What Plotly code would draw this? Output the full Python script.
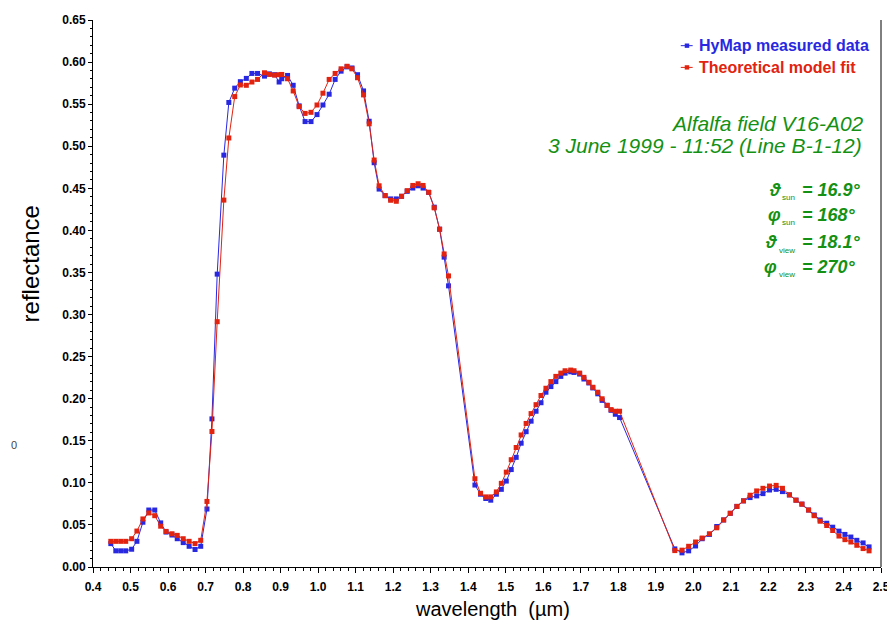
import plotly.graph_objects as go

# ---------------- data ----------------
wavelength = [
    0.4475, 0.4608, 0.474, 0.4872, 0.503, 0.517, 0.533, 0.5487, 0.5646, 0.5804,
    0.5947, 0.6105, 0.6245, 0.6404, 0.6562, 0.672, 0.6871, 0.7037,
    0.717, 0.731, 0.7487, 0.762, 0.7777, 0.7927, 0.8086, 0.8235, 0.8385, 0.857,
    0.870, 0.884, 0.896, 0.903, 0.9185, 0.9335, 0.9494, 0.9652, 0.981, 0.997,
    1.0128, 1.0294, 1.0453, 1.0611, 1.077, 1.0902, 1.105, 1.121, 1.136, 1.1493,
    1.1625, 1.1784, 1.1932, 1.2082, 1.2223, 1.2373, 1.2523, 1.2664, 1.2796, 1.2946,
    1.3094, 1.3237, 1.3358, 1.3475,
    1.4178, 1.4328, 1.4468, 1.46, 1.475, 1.4882, 1.5014, 1.5146, 1.5278, 1.541,
    1.5543, 1.5675, 1.5807, 1.5939, 1.6071, 1.6203, 1.6335, 1.6467, 1.6581, 1.6731,
    1.6819, 1.6969, 1.7083, 1.7215, 1.732, 1.7452, 1.7568, 1.7701, 1.7806, 1.792,
    1.8033,
    1.9505, 1.9697, 1.9874, 2.0058, 2.0235, 2.0428, 2.0622, 2.0807, 2.0983, 2.1159,
    2.1335, 2.1511, 2.1687, 2.1854, 2.203, 2.2206, 2.2374, 2.2559, 2.2735, 2.2893,
    2.307, 2.322, 2.3378, 2.3554, 2.3713, 2.388, 2.4039, 2.4197, 2.4356, 2.4523,
    2.4682,
]

hymap_measured = [
    0.0278, 0.0192, 0.0192, 0.0192, 0.0211, 0.0305, 0.0532, 0.0677, 0.0677, 0.0524,
    0.0415, 0.038, 0.0336, 0.029, 0.0246, 0.0208, 0.0246, 0.0689,
    0.176, 0.348, 0.4894, 0.552, 0.569, 0.5767, 0.5806, 0.5865, 0.5865, 0.5833,
    0.586, 0.585, 0.5763, 0.5802, 0.5841, 0.5724, 0.548, 0.5293, 0.5293, 0.5376,
    0.549, 0.5618, 0.5794, 0.5892, 0.5943, 0.593, 0.585, 0.5657, 0.5297, 0.4804,
    0.4491, 0.4413, 0.4374, 0.4374, 0.4405, 0.4464, 0.4503, 0.453, 0.4503, 0.4452,
    0.4276, 0.4014, 0.3682, 0.3341,
    0.0974, 0.0865, 0.0814, 0.0794, 0.0865, 0.0923, 0.1021, 0.1158, 0.1303, 0.1471,
    0.1608, 0.1733, 0.1851, 0.1952, 0.2077, 0.2144, 0.2203, 0.2265, 0.2304, 0.232,
    0.2312, 0.2293, 0.2234, 0.2187, 0.2128, 0.2058, 0.198, 0.1921, 0.1862, 0.1815,
    0.1776,
    0.0215, 0.0168, 0.0192, 0.025, 0.0336, 0.0387, 0.0481, 0.0559, 0.0638, 0.072,
    0.0786, 0.0825, 0.0845, 0.0872, 0.0915, 0.0923, 0.0896, 0.0857, 0.0794, 0.0747,
    0.0677, 0.0618, 0.0559, 0.052, 0.0473, 0.0426, 0.0387, 0.0356, 0.0317, 0.0286,
    0.0239,
]

model_fit = [
    0.0305, 0.0305, 0.0305, 0.0305, 0.0336, 0.0427, 0.0571, 0.0642, 0.061, 0.0485,
    0.0423, 0.0395, 0.0376, 0.0336, 0.0305, 0.0278, 0.0317, 0.0779,
    0.161, 0.2915, 0.436, 0.5098, 0.559, 0.5728, 0.5724, 0.5763, 0.5794, 0.5873,
    0.5853, 0.5845, 0.585, 0.5853, 0.5802, 0.5657, 0.547, 0.539, 0.5403, 0.549,
    0.563, 0.5794, 0.5865, 0.592, 0.595, 0.592, 0.5814, 0.561, 0.5266, 0.4836,
    0.453, 0.4413, 0.4358, 0.4346, 0.4405, 0.4472, 0.4534, 0.4554, 0.4534, 0.4452,
    0.4268, 0.4014, 0.372, 0.3459,
    0.1049, 0.0876, 0.0833, 0.0833, 0.0892, 0.0994, 0.1127, 0.1275, 0.142, 0.1569,
    0.1706, 0.1823, 0.1929, 0.2038, 0.2124, 0.2203, 0.2265, 0.2304, 0.2332, 0.234,
    0.2332, 0.2304, 0.2254, 0.2195, 0.2136, 0.2077, 0.1999, 0.1921, 0.187, 0.1851,
    0.1851,
    0.0195, 0.02, 0.0246, 0.0297, 0.0344, 0.0395, 0.0466, 0.0559, 0.0638, 0.072,
    0.0786, 0.0853, 0.0904, 0.0935, 0.0962, 0.097, 0.0935, 0.0857, 0.0794, 0.0747,
    0.0677, 0.061, 0.0544, 0.0493, 0.0434, 0.0368, 0.0325, 0.0297, 0.0258, 0.0219,
    0.0192,
]

series_names = ["HyMap measured data", "Theoretical model fit"]
x_tick_values = [round(0.4 + 0.1 * i, 1) for i in range(22)]
y_tick_values = [round(0.05 * i, 2) for i in range(14)]

BLUE = "rgb(40,40,225)"
RED = "rgb(225,35,15)"
GREEN = "rgb(20,145,20)"
FONT = "Liberation Sans, Arial, Helvetica, sans-serif"

# the page has an 8px body margin, so the figure is drawn 8px smaller
OFF = 8
W, H = 895 - OFF, 625 - OFF
L, R, T, B = 93 - OFF, 7, 13 - OFF, 58
PW, PH = W - L - R, H - T - B   # 795 x 554


def px(xp):  # page pixel -> paper x
    return (xp - 93) / PW


def py(yp):  # page pixel -> paper y
    return (567 - yp) / PH


fig = go.Figure()
fig.add_trace(go.Scatter(
    x=wavelength, y=hymap_measured, mode="lines+markers", name=series_names[0],
    line=dict(color=BLUE, width=1),
    marker=dict(symbol="square", size=5, color=BLUE, line=dict(width=0)),
    showlegend=False,
))
fig.add_trace(go.Scatter(
    x=wavelength, y=model_fit, mode="lines+markers", name=series_names[1],
    line=dict(color=RED, width=1),
    marker=dict(symbol="square", size=5, color=RED, line=dict(width=0)),
    showlegend=False,
))

fig.update_layout(
    width=W, height=H,
    margin=dict(l=L, r=R, t=T, b=B, pad=0),
    paper_bgcolor="white", plot_bgcolor="white",
    font=dict(family=FONT, color="black"),
    showlegend=False,
)

fig.update_xaxes(
    range=[0.4, 2.5], tickvals=x_tick_values,
    ticktext=[f"{v:.1f}" for v in x_tick_values],
    showgrid=False, zeroline=False,
    showline=True, linecolor="black", linewidth=1,
    ticks="outside", ticklen=5, tickcolor="black", tickwidth=1,
    ticklabelstandoff=4, ticklabeloverflow="allow",
    tickfont=dict(size=12, family=FONT, weight="bold"),
    minor=dict(dtick=0.02, tick0=0.4, ticks="outside", ticklen=3, tickcolor="black", showgrid=False),
)
fig.update_yaxes(
    range=[0, 0.65], tickvals=y_tick_values,
    ticktext=[f"{v:.2f}" for v in y_tick_values],
    showgrid=False, zeroline=False,
    showline=True, linecolor="black", linewidth=1,
    ticks="outside", ticklen=4, tickcolor="black", tickwidth=1,
    ticklabeloverflow="allow",
    tickfont=dict(size=12, family=FONT, weight="bold"),
    minor=dict(dtick=0.01, tick0=0, ticks="outside", ticklen=2, tickcolor="black", showgrid=False),
)

shapes = []
# right frame line
shapes.append(dict(type="line", xref="paper", yref="paper", x0=1, x1=1, y0=0, y1=1,
                   line=dict(color="black", width=1)))

ann = []
# custom legend (short line + square marker, coloured bold text)
for name, col, yy in [(series_names[0], BLUE, 39), (series_names[1], RED, 61)]:
    shapes.append(dict(type="line", xref="paper", yref="paper", x0=px(686), x1=px(698),
                       y0=py(yy), y1=py(yy), line=dict(color=col, width=1)))
    shapes.append(dict(type="rect", xref="paper", yref="paper", x0=px(690), x1=px(694.5),
                       y0=py(yy - 2.2), y1=py(yy + 2.2), line=dict(width=0), fillcolor=col))
    ann.append(dict(text=f"<b>{name}</b>", x=px(702), y=py(yy), xref="paper", yref="paper",
                    xanchor="left", yanchor="middle", showarrow=False,
                    font=dict(size=16, family=FONT, color=col)))

# axis titles
ann.append(dict(text="wavelength\u00a0\u00a0(\u00b5m)", x=px(496), y=py(610), xref="paper", yref="paper",
                xanchor="center", yanchor="middle",
                showarrow=False, font=dict(size=20, family=FONT, color="black")))
ann.append(dict(text="reflectance", x=px(30), y=py(260), xref="paper", yref="paper",
                xanchor="center", yanchor="middle",
                showarrow=False, textangle=-90, font=dict(size=24, family=FONT, color="black")))
# stray glyph at left edge
ann.append(dict(text="0", x=px(13), y=py(443), xref="paper", yref="paper",
                xanchor="center", yanchor="middle",
                showarrow=False, font=dict(size=11, family=FONT, color="#444")))
# green titles
ann.append(dict(text="<i>Alfalfa field V16-A02</i>", x=px(873), y=py(118), xref="paper", yref="paper",
                xanchor="right", yanchor="middle", showarrow=False,
                font=dict(size=21, family=FONT, color=GREEN)))
ann.append(dict(text="<i>3 June 1999 - 11:52 (Line B-1-12)</i>", x=px(871), y=py(140), xref="paper",
                yref="paper", xanchor="right", yanchor="middle", showarrow=False,
                font=dict(size=21, family=FONT, color=GREEN)))

# viewing / illumination angles: symbol, small subscript, value
angles = [
    ("\u03d1", "sun", "= 16.9\u00b0", 185, 789, 803),
    ("\u03c6", "sun", "= 168\u00b0", 210, 789, 803),
    ("\u03d1", "view", "= 18.1\u00b0", 238, 785, 803),
    ("\u03c6", "view", "= 270\u00b0", 263, 785, 803),
]
for sym, sub, val, yy, xsym, xsub in angles:
    ann.append(dict(text=f"<b><i>{sym}</i></b>", x=px(xsym), y=py(yy), xref="paper", yref="paper",
                    xanchor="right", yanchor="middle", showarrow=False,
                    font=dict(size=18, family=FONT, color=GREEN)))
    ann.append(dict(text=sub, x=px(xsub), y=py(yy + 8), xref="paper", yref="paper",
                    xanchor="right", yanchor="middle", showarrow=False,
                    font=dict(size=8, family=FONT, color=GREEN)))
    ann.append(dict(text=f"<b><i>{val}</i></b>", x=px(806), y=py(yy), xref="paper", yref="paper",
                    xanchor="left", yanchor="middle", showarrow=False,
                    font=dict(size=18, family=FONT, color=GREEN)))

fig.update_layout(annotations=ann, shapes=shapes)

fig.write_html("out.html")
